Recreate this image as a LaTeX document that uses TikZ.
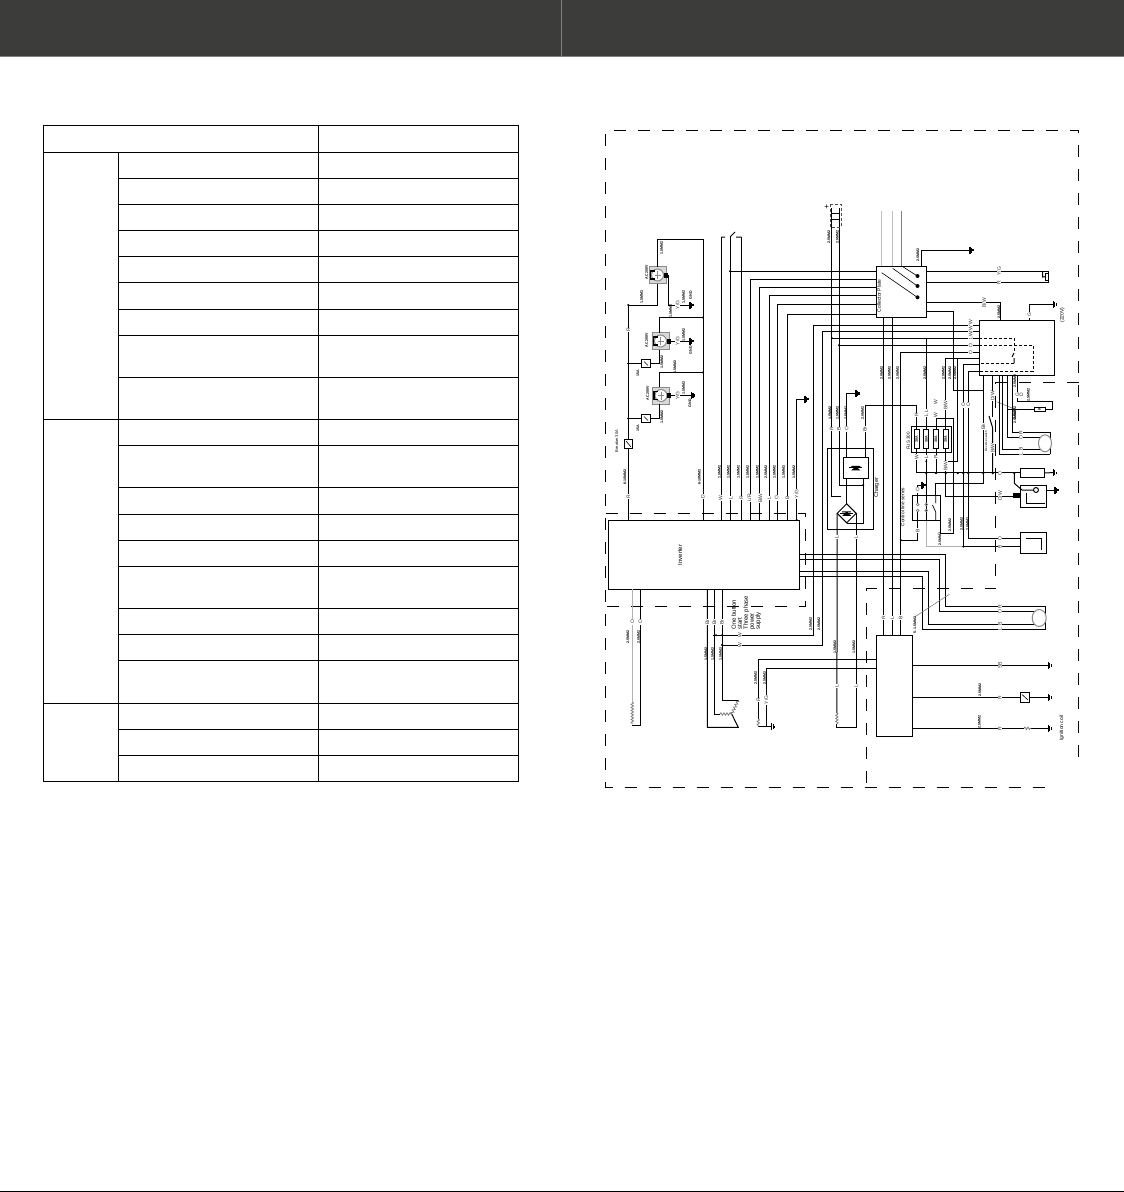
\documentclass[tikz,border=0pt]{standalone}
\usepackage{fontspec}
\setmainfont{Liberation Sans}
\usetikzlibrary{shapes.geometric, decorations.pathmorphing}
\definecolor{headbar}{HTML}{3C3C3A}
\definecolor{fanline}{HTML}{8A8A8A}

\begin{document}
\begin{tikzpicture}[x=1pt,y=-1pt,line width=1pt,
 box/.style={draw,rectangle,inner sep=0pt,outer sep=0pt},
 wire/.style={line width=1pt},
 grayline/.style={line width=1pt,color=lightgray!80!gray},
 dashframe/.style={line width=1pt,dash pattern=on 12pt off 12pt},
 winding/.style={line width=0.8pt,color=gray,decorate,decoration={snake,segment length=3pt,amplitude=1.2pt}},
 rotor/.style={draw=fanline,fill=white,ellipse,inner sep=0pt,outer sep=0pt},
 sizelab/.style={inner sep=0pt,rotate=90,font=\bfseries\fontsize{3.6}{3.6}\selectfont,text=black},
 wirelab/.style={fill=white,inner sep=0.6pt,rotate=90,font=\fontsize{5}{5}\selectfont,text=black!80},
 captext/.style={inner sep=0pt,rotate=90,text=black}]

 \useasboundingbox (0,0) rectangle (1124,1192);

 % page bars
 \fill[headbar] (0,0) rectangle (1124,56);
 \draw[line width=0.8pt,color=gray] (561.7,0) -- (561.7,56);
 \draw[line width=0.8pt,color=gray] (0,56) -- (1124,56);
 \fill[black] (0,1191) rectangle (1124,1192);

 % table
 \foreach \y in {178.3,204.3,230.3,256.3,282.3,309.3,335.3,377.3,445.3,487.5,514.5,540.5,566.5,608.5,634.5,660.5,729.5,755.5} {
  \draw (118.5,\y) -- (518.5,\y);}
 \foreach \y in {125.3,152.3,419.3,703,781.5} {
  \draw (43.5,\y) -- (518.5,\y);}
 \draw (43.5,125.3) -- (43.5,781.5);
 \draw (118.5,152.3) -- (118.5,781.5);
 \draw (318.5,125.3) -- (318.5,781.5);
 \draw (518.5,125.3) -- (518.5,781.5);

 % dashed frames
 \draw[dashframe] (1078.5,757) -- (1078.5,130) -- (605.5,130) -- (605.5,787) -- (1052,787);
 \draw[dashframe] (605.5,513.3) -- (805.7,513.3) -- (805.7,606.7) -- (605.5,606.7);
 \draw[dashframe] (1078.5,382.3) -- (995.7,382.3) -- (995.7,588.3) -- (866.7,588.3) -- (866.7,787);

 % units
 \node[box,minimum width=191,minimum height=69.3] (inverter) at (703.8,554.65) {};
 \node[box,minimum width=50.4,minimum height=51.3] (collector) at (901.5,291.65) {};
 \node[box,minimum width=75,minimum height=55] (panel) at (1016.8,347.8) {};
 \node[box,minimum width=36,minimum height=101] (busbox) at (894.3,685.8) {};
 \node[box,minimum width=46,minimum height=81] (charger) at (850.3,488.8) {};
 \node[box,minimum width=25,minimum height=21] (bridge) at (855.8,467.8) {};
 \node[draw,diamond,inner sep=0pt,minimum width=19,minimum height=19,outer sep=0pt] (diode) at (846.7,513.3) {};
 \node[box,minimum width=40,minimum height=26.7] (fusebox) at (931.7,439.35) {};
 \foreach \n/\x in {fuse1/916.7,fuse2/926.3,fuse3/936,fuse4/945.7} {
  \node[box,minimum width=5,minimum height=19.4] (\n) at (\x,439) {};}
 \node[box,minimum width=28.4,minimum height=25.7] (switchbox) at (926.5,507.85) {};
 \node[box,minimum width=24.3,minimum height=9] (filter) at (1032.15,472.8) {};
 \node[box,minimum width=26.4,minimum height=21.6] (starter) at (1033.5,496.5) {};
 \node[box,minimum width=26.4,minimum height=21.4] (heater) at (1033.5,543) {};
 \node[box,minimum width=7.7,minimum height=9.4] (breaker) at (628.3,444) {};
 \node[box,minimum width=9.4,minimum height=7.3] (fuseA) at (646,363.6) {};
 \node[box,minimum width=9.4,minimum height=7.3] (fuseB) at (646,418.5) {};
 \node[box,minimum width=9.4,minimum height=9.4] (ignfuse) at (1025,697.3) {};
 \node[box,minimum width=10.7,minimum height=4] (heatres) at (1039.7,409.3) {};
 \node[box,minimum width=3.3,minimum height=6.7] (endcap) at (1046.7,276.7) {};
 \foreach \n/\x/\y in {fan1/657.5/275,fan2/660.5/341,fan3/661/395.5} {
  \node[draw=fanline,fill=lightgray!60,rectangle,inner sep=0pt,outer sep=0pt,minimum size=17] (\n) at (\x,\y) {};
  \draw[fanline,fill=white] (\n.center) circle (6);
  \draw[line width=1.2pt] (\x-3,\y-4) -- (\x-7,\y-4) -- (\x-7,\y+4) -- (\x-3,\y+4);
  \draw[line width=0.7pt,color=fanline] (\x-3,\y) -- (\x+3,\y) (\x,\y-4) -- (\x,\y+4);
  \fill (\x+6,\y-2.5) rectangle (\x+10,\y+2.5);}

 % earths
 \foreach \n/\x/\y in {e1/690/305,e2/690/341,e3/691.5/395.5,e4/805/399,e5/856/393.3,e6/970/250,e7/1053.3/304.3,
  e8/1053.3/472.7,e9/1055/490,e10/922/485,e11/1048.3/665.3,e12/1048.3/697.3,e13/1048.3/728.3,e14/771.7/726.7} {
  \coordinate (\n) at (\x,\y);
  \draw[line width=1.1pt] (\x,\y-3.5) -- (\x,\y+3.5) (\x+1.5,\y-2.5) -- (\x+1.5,\y+2.5) (\x+3,\y-1.2) -- (\x+3,\y+1.2);}

 % fan feeds
 \draw[wire] (fan1.north) |- (703,239.5) -- (703,0 |- inverter.north);
 \draw[wire] (fan1.south) |- (628.3,305) -- (breaker.north);
 \draw[wire] (breaker.south) -- (628.3,0 |- inverter.north);
 \draw[wire] (703,317.5) -| (659.3,0 |- fan2.north);
 \draw[wire] (659.3,0 |- fan2.south) |- (fuseA.east);
 \draw[wire] (fuseA.west) -- (628.3,0 |- fuseA.west);
 \draw[wire] (703,372.5) -| (659.3,0 |- fan3.north);
 \draw[wire] (659.3,0 |- fan3.south) |- (fuseB.east);
 \draw[wire] (fuseB.west) -- (628.3,0 |- fuseB.west);
 \draw[wire] (fan1.east) -- (668.5,275) |- (e1);
 \draw[wire] (fan2.east) -- (e2);
 \draw[wire] (fan3.east) -- (e3);

 % inverter to collector
 \foreach \x/\y in {750.3/279.3,759.7/287.3,769.7/295.5,777/304.2,787.3/314} {
  \draw[wire] (\x,0 |- inverter.north) |- (collector.west |- 0,\y);}
 \foreach \x in {721.3,730,741.3} {
  \draw[wire] (\x,237) -- (\x,0 |- inverter.north);}
 \draw[wire] (721.3,237) -- (725,237) (730,237) -- (735,232) (736,237) -- (741.3,237);
 \draw[wire] (730,271.3) -- (collector.west |- 0,271.3);
 \draw[wire] (796.7,0 |- inverter.north) |- (e4);

 % inverter and battery to panel
 \draw[wire] (713.3,635.3) -| (813.3,325.3) -- (panel.west |- 0,325.3);
 \draw[wire] (721.7,645) -| (822.3,331.3) -- (panel.west |- 0,331.3);
 \draw[wire] (831.7,227) -- (831.7,496) -- (841,496);
 \draw[wire] (839,227) -- (839,485) -- (863.3,485);
 \draw[wire] (831.7,338) -- (panel.west |- 0,338);
 \draw[wire] (839,345.3) -- (panel.west |- 0,345.3);
 \draw[wire] (panel.west |- 0,352.3) -| (900.7,0 |- busbox.north);
 \draw[wire] (panel.west |- 0,358.3) -| (fuse4.north);
 \draw[wire] (957.7,358.3) -- (957.7,461.3) -- (945.7,461.3);
 \draw[wire] (panel.west |- 0,364.7) -| (963.3,546.7);
 \draw[wire] (panel.west |- 0,371.3) -| (968.3,538.3) -- (heater.west |- 0,538.3);
 \draw[wire] (963.3,546.7) -- (heater.west |- 0,546.7);
 \draw[grayline] (926.3,516) -- (926.3,546.7) -- (963.3,546.7);
 \draw[wire,densely dashed] (panel.west |- 0,338) -- (1014,338) -- (1014,353);
 \draw[wire] (1014,353) -- (1012,357) (1014,358) -- (1014,363.3);
 \draw[wire,densely dashed] (1014,363.3) -- (panel.west |- 0,363.3);
 \draw[wire,densely dashed] (panel.west |- 0,345.3) -- (1033.3,345.3) -- (1033.3,371.3) -- (panel.west |- 0,371.3);

 % collector outputs
 \draw[wire] (collector.east |- 0,271.3) -- (1048,271.3) -- (1048,273.3);
 \draw[wire] (collector.east |- 0,282.3) -- (1048,282.3) -- (1048,280);
 \draw[wire] (1042.7,271.3) -- (1042.7,277) -- (endcap.west);
 \draw[wire] (collector.east |- 0,302.7) -| (1000.7,0 |- panel.north);
 \draw[wire] (collector.east |- 0,311.7) -| (953.3,390) -- (983.3,390);
 \foreach \x in {883.7,892.3} {
  \draw[wire] (\x,0 |- collector.south) -- (\x,0 |- busbox.north);}
 \draw[wire] (921,0 |- collector.north) |- (e6);
 \draw[line width=1.3pt,color=lightgray] (881.7,211) -- (881.7,0 |- collector.north);
 \draw[line width=1.3pt,color=lightgray] (892.7,211) -- (892.7,0 |- collector.north);
 \draw[line width=1pt,color=gray] (901.7,211) -- (901.7,0 |- collector.north);
 \draw[line width=0.6pt] (881.7,272.7) -- (917.3,297.3) (892.7,268.3) -- (917.3,286) (901.7,266) -- (917.3,276);
 \foreach \y in {276,286,297.3} {
  \fill (917.5,\y) circle (2);}

 % battery
 \draw[line width=0.8pt,densely dashed,color=black!70] (830,204) rectangle (841,227);
 \draw[wire] (831.7,208) -- (831.7,227) (839,208) -- (839,227) (831.7,213) -- (839,213) (831.7,219) -- (839,219);
 \node[inner sep=0pt,font=\fontsize{8}{8}\selectfont] (plus) at (826.7,207) {+};

 % panel lower terminals
 \draw[wire] (983.3,0 |- panel.south) -- (983.3,483.3) -| (935.7,0 |- switchbox.north);
 \draw[wire] (992.7,0 |- panel.south) -- (992.7,417);
 \draw[wire] (989,416) -- (992.7,428) -- (992.7,473.3);
 \draw[line width=0.6pt,color=gray] (996.7,401.7) -- (1016.7,410);
 \draw[wire] (999.3,0 |- panel.south) |- (1050,454.3);
 \draw[wire] (1002.7,0 |- panel.south) |- (1042,449.3);
 \draw[wire] (1007.7,0 |- panel.south) |- (1042,437.3);
 \draw[wire] (1012.7,0 |- panel.south) |- (1050,432.3) -- (1050,454.3);
 \node[rotor,minimum width=13,minimum height=17] (motorA) at (1045,443.3) {};
 \draw[wire] (1017.3,0 |- panel.south) |- (1052.3,401.7) |- (heatres.east);
 \draw[wire] (heatres.west) -- (1007.7,409.3);
 \draw[wire] (1029.3,0 |- panel.north) |- (e7);

 % charger
 \draw[wire] (e5) -| (846.7,0 |- bridge.north);
 \draw[wire] (846.7,0 |- bridge.south) -- (diode.north);
 \draw[wire] (865,0 |- bridge.north) |- (916.7,405) -- (fuse1.north);
 \draw[wire] (863.3,0 |- bridge.south) -- (863.3,523.3) -- (846.7,523.3);
 \draw[wire] (diode.west) -- (836.9,713);
 \draw[wire] (836.9,724) -- (836.9,727.3) -| (856.2,0 |- diode.east) -- (diode.east);
 \draw[winding] (836.9,713) -- (836.9,724);
 \foreach \n in {bridge,diode} {
  \fill[shift={(\n.center)}] (-4.5,2.5) -- (4.5,2.5) -- (0,-1.5) -- cycle (-4.5,-2) rectangle (4.5,-1);
  \draw[shift={(\n.center)},line width=0.8pt] (-6.5,0) -- (6.5,0);}

 % fuses and switches
 \draw[wire] (926.3,338) -- (fuse2.north);
 \draw[wire] (fuse2.south) -- (926.3,516);
 \draw[wire] (fuse3.north) |- (953.3,418.3) -- (953.3,533.3) -| (940,0 |- switchbox.south);
 \draw[wire] (fuse4.north) -- (945.7,400);
 \draw[wire] (fuse1.south) |- (filter.west);
 \draw[wire] (fuse3.south) -- (936,473.3);
 \draw[wire] (fuse4.south) -- (945.7,496) -- (1012.7,496);
 \draw[wire] (917.7,0 |- switchbox.north) |- (e10);
 \draw[wire] (917.7,0 |- switchbox.south) -- (917.7,540) -| (900.7,0 |- busbox.north);
 \draw[wire] (filter.east) -- (e8);
 \draw[wire] (starter.east |- e9) -- (e9);
 \foreach \x in {917.7,926.3} {
  \draw[line width=0.7pt] (\x,0 |- switchbox.north) -- (\x,503) (\x,512) -- (\x,0 |- switchbox.south);
  \draw[line width=0.7pt,color=gray] (\x,504.5) circle (1.4) (\x,510.5) circle (1.4);}
 \draw[line width=0.7pt] (935.7,0 |- switchbox.north) -- (935.7,503) (932.5,505) -- (935.7,512) -- (935.7,0 |- switchbox.south);

 % starter and heater
 \draw[wire] (1014.3,473.3) -- (1014.3,483.3) -- (1022,490) -- (1033,490);
 \draw[wire] (1036,490) circle (2.5);
 \draw[wire] (1026,493) -- (1026,503.3) -- (1045,503.3);
 \fill (1012.5,493.3) rectangle (1020,498.3);
 \draw[wire] (1026,538.3) -- (1041,538.3) -- (1041,550);

 % inverter right side
 \draw[wire] (inverter.east |- 0,554.3) -| (945.7,606.7) -- (1045.7,606.7) -- (1045.7,629.3);
 \draw[wire] (inverter.east |- 0,559.3) -| (939.3,611.7) -- (1036,611.7);
 \draw[wire] (inverter.east |- 0,571.7) -| (928.7,624.3) -- (1036,624.3);
 \draw[wire] (inverter.east |- 0,576.7) -| (922.5,629.3) -- (1045.7,629.3);
 \node[rotor,minimum width=14,minimum height=17] (motorB) at (1039.2,618) {};
 \draw[line width=0.6pt,color=gray] (949.3,594.3) -- (915,616.7);

 % bus box
 \draw[wire] (busbox.east |- e11) -- (e11);
 \draw[wire] (busbox.east |- e12) -- (ignfuse.west) (ignfuse.east) -- (e12);
 \draw[wire] (busbox.east |- e13) -- (1024,728.3) (1031,728.3) -- (e13);
 \draw[winding] (1024,728.3) -- (1031,728.3);
 \draw[line width=0.6pt] (1022,694.5) -- (1028,700);
 \draw[line width=0.6pt] (626,441) -- (631,447) (644,361.5) -- (648,365.5) (644,416.5) -- (648,420.5);
 \draw[wire] (758.3,719) |- (busbox.west |- 0,659.3);
 \draw[wire] (766.3,726.7) |- (busbox.west |- 0,668.3);
 \draw[wire] (758.3,726.7) -- (e14);
 \draw[winding] (758.3,719) -- (758.3,726.7);

 % inverter bottom
 \draw[wire] (640.3,0 |- inverter.south) -- (640.3,725) -- (632.3,725);
 \draw[grayline] (632.3,0 |- inverter.south) -- (632.3,702);
 \draw[winding] (632.3,702) -- (632.3,724);
 \draw[wire] (707.3,0 |- inverter.south) |- (738.3,727.3) -- (731.7,714);
 \draw[wire] (714.3,0 |- inverter.south) |- (720,714);
 \draw[wire] (722,0 |- inverter.south) |- (738.3,700);
 \draw[winding] (720,714) -- (731.7,714);
 \draw[winding] (738.3,700) -- (731.7,714);

 % junctions
 \foreach \x/\y in {703/317.5,703/372.5,628.3/305,628.3/363.5,628.3/418.5,730/271.3,831.7/338,839/345.3,
  716/635.3,722/635.3,722/645,926.3/473.3,936/473.3,945.7/473.3,957.7/473.3,963.3/473.3,968.3/473.3,983.3/473.3,
  992.7/473.3,1014.3/473.3,963.3/546.7,900.7/540,863.3/485,926.3/461.3,945.7/461.3,796.7/520} {
  \fill (\x,\y) circle (1.1);}

 % wire sizes
 \foreach \x/\y/\t [count=\i] in {661.7/248/1.5MM2,641.7/297/1.5MM2,670.7/311/1.5MM2,683.7/297/1.5MM2,690.7/295/GND,
  662/362/1.5MM2,683.7/335/1.5MM2,690.7/350/GND,675/367/1.5MM2,662/417/1.5MM2,683.7/388/1.5MM2,690/403/GND,
  830/413/1.5MM2,837.3/413/1.5MM2,829/237/2.5MM2,837.3/237/2.5MM2,918/255/2.5MM2,881.7/373/2.5MM2,889.3/373/2.5MM2,
  897.7/373/2.5MM2,925/373/2.5MM2,943.3/373/2.5MM2,950/373/2.5MM2,955/373/2.5MM2,999/311.7/2.5MM2,1015/381/2.5MM2,
  1028.3/395/2.5MM2,1015/413/2.5MM2,846/413/2.5MM2,862.7/413/2.5MM2,1015/417/2.5MM2,950/525/2.5MM2,940/539/2.5MM2,
  961.7/524/2.5MM2,967.7/524/2.5MM2,625/476.7/6-10MM2,699.3/476.7/6-10MM2,719.3/471.7/1.5MM2,728.3/471.7/1.5MM2,
  738.3/471.7/1.5MM2,747.7/471.7/1.5MM2,757.3/471.7/1.5MM2,766/471.7/2.5MM2,774.3/471.7/1.5MM2,783.7/471.7/1.5MM2,
  794/471.7/1.5MM2,628/637/2.5MM2,638.7/637/2.5MM2,706/654/1.5MM2,712.7/654/1.5MM2,720.7/654/1.5MM2,810.7/624/2.5MM2,
  819/624/2.5MM2,835/647/1.5MM2,854/647/1.5MM2,755.7/678/2.5MM2,764.7/678/2.5MM2,980/690/2.5MM2,979.3/721.7/2.5MM2,
  915/625/5-1.5MM2,646.7/272/AC 200V,646.7/340/AC 200V,647.7/393/AC 200V,638/373/15A,638/428/15A,
  916.7/439/30A,926.3/439/30A,936/439/30A,945.7/439/30A,1039.7/409.3/R} {
  \node[sizelab] (s\i) at (\x,\y) {\t};}

 % wire letters
 \foreach \x/\y/\t [count=\i] in {628.3/496.7/R,703/496.7/D,720.7/498/W,731/498/L,741.3/498/R,749.3/498/{L/R},
  760.3/498/{B/W},769.3/498/L,776.7/498/O,787.3/498/B,796.7/494/{Y/G},677.7/305/{Y/G},677.7/341/{Y/G},677.7/395.5/{Y/G},
  628.3/330/R,632.3/622/O,640.3/622/O,707.3/622/Br,714.3/622/Br,722/622/Br,740/635.3/W,740/645/W,
  970.7/325.3/{W/W},970.7/331.3/{W/W},970.7/338/L,970.7/345.3/O,970.7/352.3/O,
  999/271.3/{Y/G},999/282.3/R,984/302.7/{B/W},1029.3/315/G,992.7/396/{D/W},1017.3/395/G,1021.5/395/D,
  963.3/405/O,968.3/405/O,945.7/405/{B/W},916.7/415/R,926.3/415/L,935.7/415/W,916.7/456.7/W,926.3/457/L,936/457/R,945.7/466/{B/W},
  831.7/429/R,839/429/B,846.7/429/O,865/429/Br,917.7/490/O,917.7/530.7/B,983.3/426.7/Bk,992.7/448/{B/W},
  1021/432.3/R,1021/437.3/O,1021/449.3/B,1021/454.3/L,1000/473.3/O,1000/496/{D/W},1000/538.3/O,1000/546.7/B,
  1000/606.7/R,1000/611.7/O,1000/624.3/B,1000/629.3/L,883.7/617.7/R,892.3/617.7/L,900.7/617.7/B,
  1000/665.3/SB,1000/697.3/R,1000/728.3/R,758.3/700/R,766.3/700/{Y/G},836.9/537/L,856.2/537/L,836.9/686/L,856.2/686/L,
  926.3/411/L,935.7/402/W} {
  \node[wirelab] (w\i) at (\x,\y) {\t};}

 % captions
 \node[captext,font=\fontsize{6}{6}\selectfont] (invtext) at (680,555) {Inverter};
 \node[captext,font=\fontsize{5.5}{5.5}\selectfont] (chgtext) at (876.7,488) {Charger};
 \node[captext,font=\fontsize{5}{5}\selectfont] (coltext) at (879,296) {Collector Plate};
 \node[captext,font=\fontsize{4.8}{4.8}\selectfont] (ctltext) at (902.7,507) {Control line series};
 \node[captext,font=\fontsize{4.5}{4.5}\selectfont] (fustext) at (908.3,441) {FUS 300};
 \node[captext,font=\fontsize{3}{3}\selectfont] (revtext) at (986,441) {Reverse switch};
 \node[captext,font=\fontsize{4}{4}\selectfont] (brktext) at (616.7,441) {Breaker 30A};
 \node[captext,font=\fontsize{5}{5}\selectfont] (igntext) at (1061.7,728) {Ignition coil};
 \node[captext,font=\fontsize{5}{5}\selectfont] (volttext) at (1062.3,315) {(220V)};
 \node[captext,anchor=north west,align=left,font=\fontsize{6}{6}\selectfont] (supplytext) at (731,630) {One button\\start\\Three phase\\power\\supply};
\end{tikzpicture}
\end{document}
